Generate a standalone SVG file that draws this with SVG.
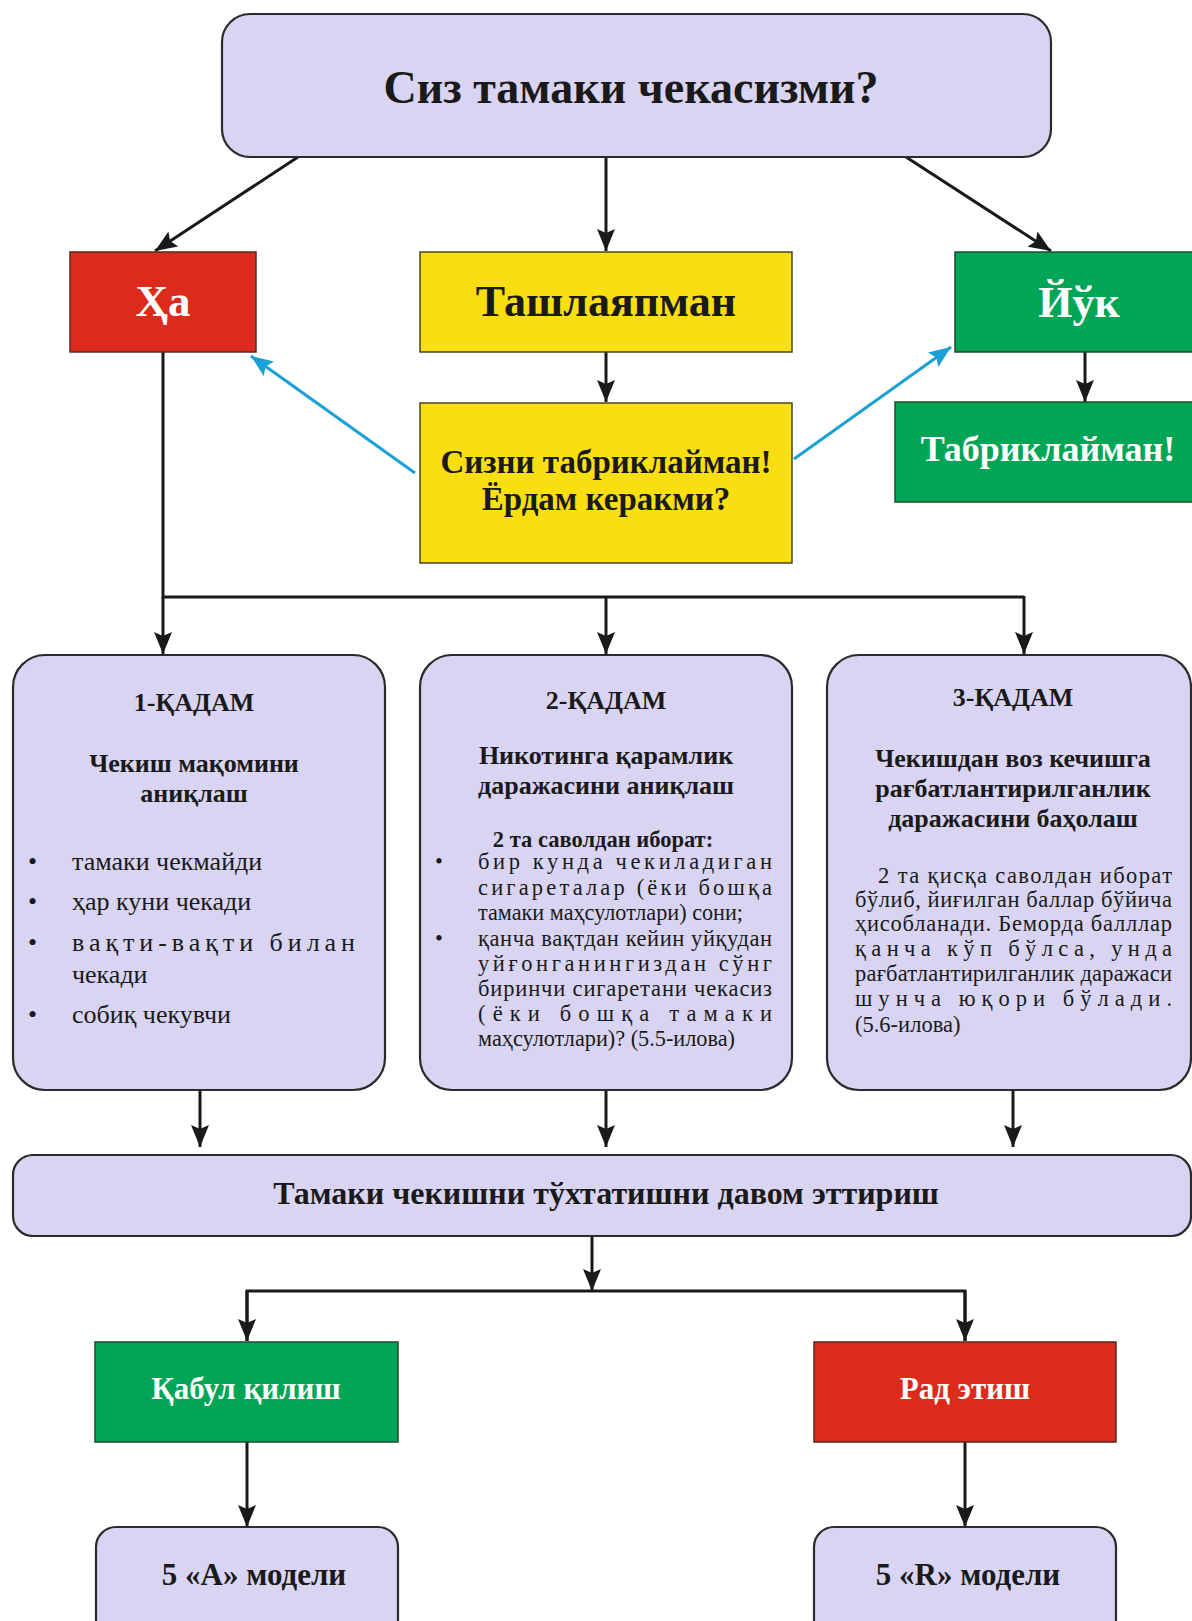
<svg xmlns="http://www.w3.org/2000/svg" width="1192" height="1621" viewBox="0 0 1192 1621">
  <style>
    .lav { fill: #D8D4F2; stroke: #2b2b2b; stroke-width: 2.2; }
    .red { fill: #DC2A1B; stroke: #5a2a22; stroke-width: 1.5; }
    .yel { fill: #F9DE12; stroke: #4a4420; stroke-width: 1.5; }
    .grn { fill: #00A556; stroke: #1f4a30; stroke-width: 1.5; }
    text { font-family: "Liberation Serif", "Times New Roman", serif; fill: #1a1a1a; }
    .b { font-weight: bold; }
    .w { fill: #ffffff; }
    .c { text-anchor: middle; }
    .line { fill: none; stroke: #1a1a1a; stroke-width: 3; }
    .blue { fill: none; stroke: #1BA0D6; stroke-width: 3; }
    .t1 { font-size: 26px; }
    .t2 { font-size: 22.5px; }
  </style>
  <defs>
    <marker id="ah" viewBox="0 0 22 18" refX="22" refY="9" markerWidth="22" markerHeight="18" markerUnits="userSpaceOnUse" orient="auto">
      <path d="M0,0 L22,9 L0,18 L4,9 Z" fill="#1a1a1a"/>
    </marker>
    <marker id="ahb" viewBox="0 0 22 18" refX="22" refY="9" markerWidth="22" markerHeight="18" markerUnits="userSpaceOnUse" orient="auto">
      <path d="M0,0 L22,9 L0,18 L4,9 Z" fill="#1BA0D6"/>
    </marker>
  </defs>

  <rect width="1192" height="1621" fill="#ffffff"/>

  <!-- connectors -->
  <g id="connectors">
    <line class="line" x1="298" y1="157" x2="155" y2="251" marker-end="url(#ah)"/>
    <line class="line" x1="606" y1="157" x2="606" y2="251" marker-end="url(#ah)"/>
    <line class="line" x1="906" y1="157" x2="1051" y2="251" marker-end="url(#ah)"/>
    <line class="line" x1="606" y1="351" x2="606" y2="402" marker-end="url(#ah)"/>
    <line class="line" x1="1085" y1="352" x2="1085" y2="402" marker-end="url(#ah)"/>
    <line class="blue" x1="415" y1="473" x2="251" y2="356" marker-end="url(#ahb)"/>
    <line class="blue" x1="794" y1="459" x2="951" y2="347" marker-end="url(#ahb)"/>
    <polyline class="line" points="163,352 163,597 1024,597"/>
    <line class="line" x1="163" y1="597" x2="163" y2="654" marker-end="url(#ah)"/>
    <line class="line" x1="606" y1="597" x2="606" y2="654" marker-end="url(#ah)"/>
    <line class="line" x1="1024" y1="596" x2="1024" y2="654" marker-end="url(#ah)"/>
    <line class="line" x1="200" y1="1090" x2="200" y2="1147" marker-end="url(#ah)"/>
    <line class="line" x1="606" y1="1090" x2="606" y2="1147" marker-end="url(#ah)"/>
    <line class="line" x1="1013" y1="1090" x2="1013" y2="1147" marker-end="url(#ah)"/>
    <line class="line" x1="592" y1="1236" x2="592" y2="1291" marker-end="url(#ah)"/>
    <polyline class="line" points="247,1341 247,1291 965,1291 965,1341"/>
    <line class="line" x1="247" y1="1291" x2="247" y2="1341" marker-end="url(#ah)"/>
    <line class="line" x1="965" y1="1291" x2="965" y2="1341" marker-end="url(#ah)"/>
    <line class="line" x1="247" y1="1442" x2="247" y2="1527" marker-end="url(#ah)"/>
    <line class="line" x1="965" y1="1442" x2="965" y2="1527" marker-end="url(#ah)"/>
  </g>

  <g id="question">
    <rect class="lav" x="222" y="14" width="829" height="143" rx="28"/>
    <text class="b c" x="631" y="103" font-size="46">Сиз тамаки чекасизми?</text>
  </g>

  <g id="yes">
    <rect class="red" x="70" y="252" width="186" height="100"/>
    <text class="b c w" x="163" y="316" font-size="45">Ҳа</text>
  </g>

  <g id="quitting">
    <rect class="yel" x="420" y="252" width="372" height="100"/>
    <text class="b c" x="606" y="316" font-size="44">Ташлаяпман</text>
  </g>

  <g id="no">
    <rect class="grn" x="955" y="252" width="250" height="100"/>
    <text class="b c w" x="1079" y="317" font-size="44">Йўк</text>
  </g>

  <g id="congrats-help">
    <rect class="yel" x="420" y="403" width="372" height="160"/>
    <text class="b c" x="606" y="473" font-size="33">Сизни табриклайман!</text>
    <text class="b c" x="606" y="510" font-size="33">Ёрдам керакми?</text>
  </g>

  <g id="congrats">
    <rect class="grn" x="895" y="402" width="310" height="100"/>
    <text class="b c w" x="1048" y="461" font-size="36">Табриклайман!</text>
  </g>

  <g id="step1">
    <rect class="lav" x="13" y="655" width="372" height="435" rx="32"/>
    <text class="b c" x="194" y="711" font-size="26">1-ҚАДАМ</text>
    <text class="b c" x="194" y="772" font-size="26">Чекиш мақомини</text>
    <text class="b c" x="194" y="802" font-size="26">аниқлаш</text>
    <g class="t1">
      <text x="28" y="870">•</text>
      <text x="72" y="870">тамаки чекмайди</text>
      <text x="28" y="910">•</text>
      <text x="72" y="910">ҳар куни чекади</text>
      <text x="28" y="951">•</text>
      <text x="72" y="951" textLength="283" lengthAdjust="spacing">вақти-вақти билан</text>
      <text x="72" y="983">чекади</text>
      <text x="28" y="1023">•</text>
      <text x="72" y="1023">собиқ чекувчи</text>
    </g>
  </g>

  <g id="step2">
    <rect class="lav" x="420" y="655" width="372" height="435" rx="32"/>
    <text class="b c" x="606" y="709" font-size="26">2-ҚАДАМ</text>
    <text class="b c" x="606" y="764" font-size="26">Никотинга қарамлик</text>
    <text class="b c" x="606" y="794" font-size="26">даражасини аниқлаш</text>
    <text class="b c" x="603" y="847" font-size="22.5">2 та саволдан иборат:</text>
    <g class="t2">
      <text x="435" y="869">•</text>
      <text x="478" y="869" textLength="294" lengthAdjust="spacing">бир кунда чекиладиган</text>
      <text x="478" y="895" textLength="294" lengthAdjust="spacing">сигареталар (ёки бошқа</text>
      <text x="478" y="920" textLength="265" lengthAdjust="spacingAndGlyphs">тамаки маҳсулотлари) сони;</text>
      <text x="435" y="946">•</text>
      <text x="478" y="946" textLength="294" lengthAdjust="spacing">қанча вақтдан кейин уйқудан</text>
      <text x="478" y="971" textLength="294" lengthAdjust="spacing">уйғонганингиздан сўнг</text>
      <text x="478" y="996" textLength="294" lengthAdjust="spacing">биринчи сигаретани чекасиз</text>
      <text x="478" y="1021" textLength="294" lengthAdjust="spacing">(ёки бошқа тамаки</text>
      <text x="478" y="1046" textLength="257" lengthAdjust="spacingAndGlyphs">маҳсулотлари)? (5.5-илова)</text>
    </g>
  </g>

  <g id="step3">
    <rect class="lav" x="827" y="655" width="364" height="435" rx="32"/>
    <text class="b c" x="1013" y="706" font-size="26">3-ҚАДАМ</text>
    <text class="b c" x="1013" y="767" font-size="26">Чекишдан воз кечишга</text>
    <text class="b c" x="1013" y="797" font-size="26">рағбатлантирилганлик</text>
    <text class="b c" x="1013" y="827" font-size="26">даражасини баҳолаш</text>
    <g class="t2">
      <text x="878" y="883" textLength="294" lengthAdjust="spacing">2 та қисқа саволдан иборат</text>
      <text x="855" y="907" textLength="317" lengthAdjust="spacing">бўлиб, йиғилган баллар бўйича</text>
      <text x="855" y="931" textLength="317" lengthAdjust="spacing">ҳисобланади. Беморда балллар</text>
      <text x="855" y="956" textLength="317" lengthAdjust="spacing">қанча кўп бўлса, унда</text>
      <text x="855" y="981" textLength="317" lengthAdjust="spacing">рағбатлантирилганлик даражаси</text>
      <text x="855" y="1006" textLength="317" lengthAdjust="spacing">шунча юқори бўлади.</text>
      <text x="855" y="1032">(5.6-илова)</text>
    </g>
  </g>

  <g id="continue">
    <rect class="lav" x="13" y="1155" width="1178" height="81" rx="20"/>
    <text class="b c" x="606" y="1204" font-size="32">Тамаки чекишни тўхтатишни давом эттириш</text>
  </g>

  <g id="accept">
    <rect class="grn" x="95" y="1342" width="303" height="100"/>
    <text class="b c w" x="246" y="1399" font-size="31">Қабул қилиш</text>
  </g>

  <g id="reject">
    <rect class="red" x="814" y="1342" width="302" height="100"/>
    <text class="b c w" x="965" y="1399" font-size="31">Рад этиш</text>
  </g>

  <g id="model-a">
    <rect class="lav" x="96" y="1527" width="302" height="120" rx="20"/>
    <text class="b c" x="254" y="1585" font-size="31">5 «А» модели</text>
  </g>

  <g id="model-r">
    <rect class="lav" x="814" y="1527" width="302" height="120" rx="20"/>
    <text class="b c" x="968" y="1585" font-size="31">5 «R» модели</text>
  </g>
</svg>
